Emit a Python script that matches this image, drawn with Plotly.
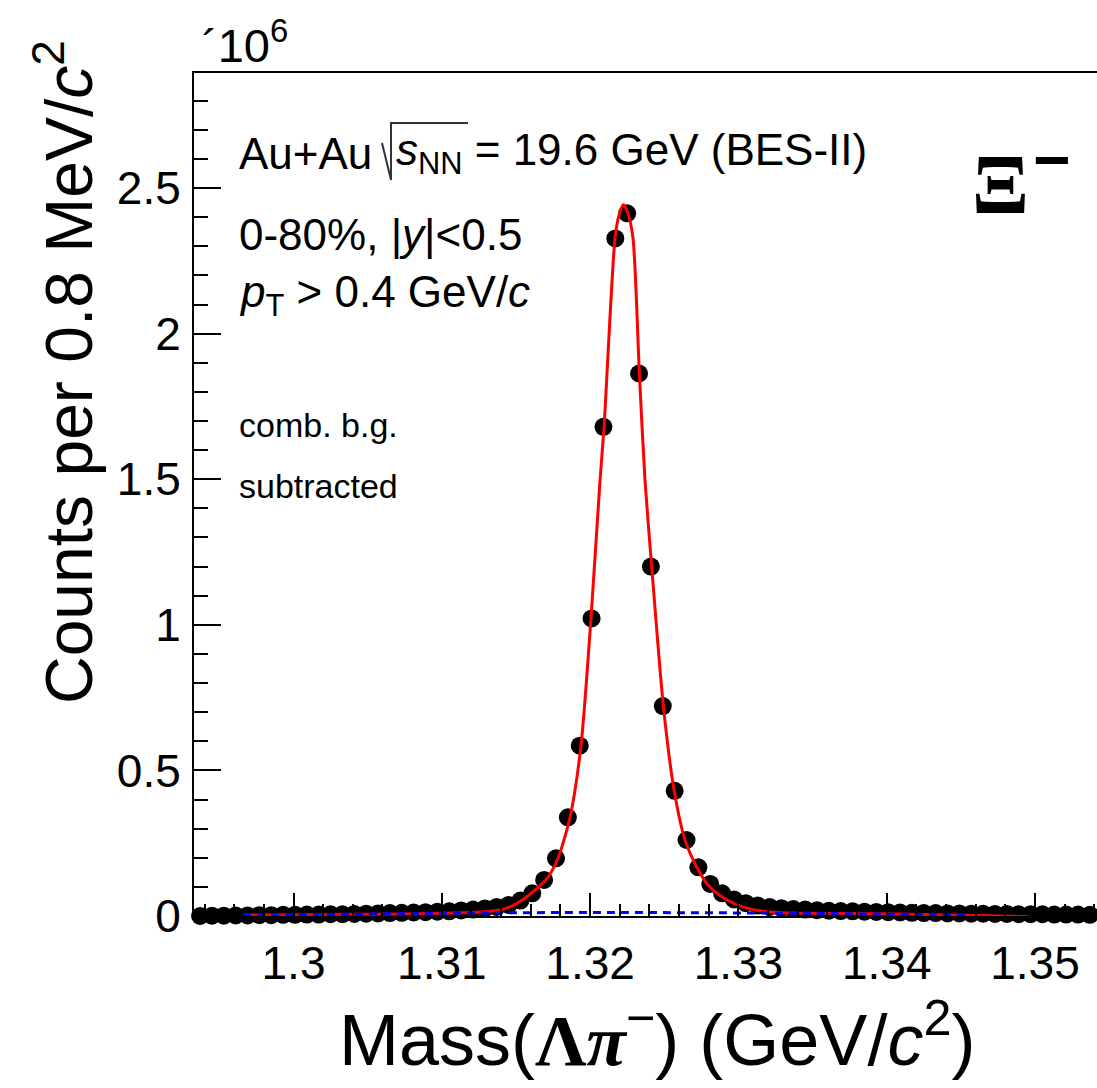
import plotly.graph_objects as go

# ---------------- data ----------------
BIN_LO = 1.2933          # GeV/c^2, lower edge of first visible bin
BIN_W = 0.0008           # 0.8 MeV/c^2 bins
COUNTS_M = [             # counts per bin, in units of 10^6
    0.000, 0.001, 0.001, 0.002, 0.002, 0.003, 0.003, 0.004, 0.004, 0.005,
    0.005, 0.006, 0.006, 0.007, 0.008, 0.009, 0.010, 0.011, 0.012, 0.013,
    0.015, 0.016, 0.019, 0.022, 0.026, 0.031,
    0.038, 0.053, 0.078, 0.124, 0.198, 0.339, 0.585, 1.022, 1.680, 2.327,
    2.413, 1.863, 1.200, 0.721, 0.430, 0.261, 0.167, 0.110, 0.078, 0.057,
    0.044,
    0.036, 0.031, 0.027, 0.024, 0.022, 0.020, 0.018, 0.017, 0.016, 0.015,
    0.014, 0.013, 0.012, 0.011, 0.010, 0.010, 0.009, 0.009, 0.008, 0.008,
    0.007, 0.007, 0.006, 0.006, 0.006, 0.005, 0.005, 0.005, 0.004, 0.004,
]
MASS = [BIN_LO + BIN_W * (i + 0.5) for i in range(len(COUNTS_M))]

FIT_MASS = [1.29659, 1.30044, 1.30381, 1.30718, 1.30988, 1.31190, 1.31310,
            1.31392, 1.31480, 1.31548, 1.31622, 1.31707, 1.31784, 1.31865,
            1.31939, 1.32006, 1.32067, 1.32094, 1.32168, 1.32195, 1.32224,
            1.32252, 1.32289, 1.32332, 1.32370, 1.32415, 1.32494, 1.32566,
            1.32640, 1.32719, 1.32795, 1.32876, 1.32977, 1.33078, 1.33180,
            1.33348, 1.33753, 1.34090, 1.34427, 1.34764, 1.34953]
FIT_VAL = [0.0034, 0.0045, 0.0058, 0.0069, 0.0093, 0.0120, 0.0155,
           0.0206, 0.0361, 0.0567, 0.0859, 0.1271, 0.1992, 0.3400,
           0.5872, 1.0234, 1.4973, 1.6793, 2.3283, 2.4070, 2.4423,
           2.4176, 2.3283, 1.8647, 1.4973, 1.2019, 0.7212, 0.4327,
           0.2610, 0.1683, 0.1065, 0.0704, 0.0412, 0.0240, 0.0155,
           0.0103, 0.0086, 0.0069, 0.0034, 0.0000, -0.0030]

BKG_MASS = [1.29659, 1.30381, 1.31056, 1.31730, 1.32404, 1.33078, 1.33753, 1.34528]
BKG_VAL = [0.0034, 0.0058, 0.0096, 0.0117, 0.0117, 0.0103, 0.0076, 0.0034]

X_TICKS = [1.30, 1.31, 1.32, 1.33, 1.34, 1.35]
X_TICK_TEXT = ["1.3", "1.31", "1.32", "1.33", "1.34", "1.35"]
Y_TICKS = [0, 0.5, 1.0, 1.5, 2.0, 2.5]
Y_TICK_TEXT = ["0", "0.5", "1", "1.5", "2", "2.5"]

# ---------------- layout geometry (pixels) ----------------
W, H = 1097, 1088
ML, MR, MT, MB = 194, 0, 73, 172
PW, PH = W - ML - MR, H - MT - MB
SANS = "Liberation Sans, Arial, Helvetica, sans-serif"
SERIF = "Liberation Serif, Times New Roman, serif"


def px(x):
    return (x - ML) / PW


def py(y):
    return (H - MB - y) / PH


fig = go.Figure()
fig.add_trace(go.Scatter(
    x=MASS, y=COUNTS_M, mode="markers",
    marker=dict(color="black", size=18, line=dict(width=0)),
    cliponaxis=False, hoverinfo="skip"))
fig.add_trace(go.Scatter(
    x=FIT_MASS, y=FIT_VAL, mode="lines",
    line=dict(color="#ff0000", width=3, shape="spline", smoothing=0.7),
    hoverinfo="skip"))
fig.add_trace(go.Scatter(
    x=BKG_MASS, y=BKG_VAL, mode="lines",
    line=dict(color="#0000ff", width=3, dash="8px,6px", shape="spline"),
    hoverinfo="skip"))

fig.update_xaxes(
    range=[1.29329, 1.35418], tickvals=X_TICKS, ticktext=X_TICK_TEXT,
    ticks="inside", ticklen=23, tickwidth=2, tickcolor="black",
    showline=True, linewidth=2, linecolor="black", mirror=True,
    showgrid=False, zeroline=False, ticklabelstandoff=6,
    tickfont=dict(family=SANS, size=46, color="black"),
    minor=dict(ticks="inside", ticklen=12, tickwidth=2, tickcolor="black",
               dtick=0.002, tick0=1.3, showgrid=False))
fig.update_yaxes(
    range=[0, 2.895], tickvals=Y_TICKS, ticktext=Y_TICK_TEXT,
    ticks="inside", ticklen=27, tickwidth=2, tickcolor="black",
    showline=True, linewidth=2, linecolor="black", mirror=False,
    showgrid=False, zeroline=False, ticklabelstandoff=2,
    tickfont=dict(family=SANS, size=46, color="black"),
    minor=dict(ticks="inside", ticklen=14, tickwidth=2, tickcolor="black",
               dtick=0.1, tick0=0, showgrid=False))

ann = []


def text(x, y, s, size, xanchor="left", family=SANS, angle=0):
    ann.append(dict(x=px(x), y=py(y), xref="paper", yref="paper", text=s,
                    showarrow=False, xanchor=xanchor, yanchor="middle",
                    textangle=angle,
                    font=dict(family=family, size=size, color="black")))


text(200, 42, "´10<sup>6</sup>", 47)
text(237, 153, "Au+Au", 44)
text(394, 153, "<i>s</i><sub>NN</sub> = 19.6 GeV (BES-II)", 44)
text(237, 234, "0-80%, |<i>y</i>|&lt;0.5", 44)
text(237, 295, "<i>p</i><sub>T</sub> &gt; 0.4 GeV/<i>c</i>", 44)
text(237, 425, "comb. b.g.", 34)
text(237, 486, "subtracted", 34)
text(1000, 184, "<b>Ξ</b>", 84, xanchor="center", family=SERIF)
text(1051, 160, "<b>−</b>", 64, xanchor="center", family=SANS)
text(64, 372, "Counts per 0.8 MeV/<i>c</i><sup>2</sup>", 66,
     xanchor="center", angle=-90)
text(657, 1035,
     "Mass(<span style=\"font-family:'Liberation Serif';font-weight:bold\">Λ</span>"
     "<span style=\"font-family:'Liberation Serif';font-weight:bold;font-style:italic\">π</span>"
     "<sup>−</sup>) (GeV/<i>c</i><sup>2</sup>)", 72, xanchor="center")

# square-root sign of sqrt(s_NN)
shapes = [
    dict(type="path", xref="paper", yref="paper",
         path=f"M {px(382)} {py(143)} L {px(391)} {py(180)} L {px(391)} {py(123)} L {px(468)} {py(123)}",
         line=dict(color="#333333", width=2)),
]

fig.update_layout(
    width=W, height=H, margin=dict(l=ML, r=MR, t=MT, b=MB, pad=0),
    plot_bgcolor="white", paper_bgcolor="white", showlegend=False,
    annotations=ann, shapes=shapes)

fig.write_html("out.html", config={"displayModeBar": False},
               post_script="document.body.style.margin='0px';")
